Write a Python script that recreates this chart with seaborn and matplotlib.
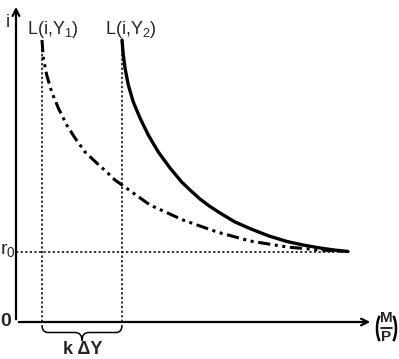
import numpy as np
import pandas as pd
import matplotlib
matplotlib.use("Agg")
import matplotlib.pyplot as plt
import seaborn as sns
from matplotlib.path import Path
from matplotlib.patches import PathPatch, Arc

# ========== Data (arbitrary units) ==========
# L(i, Y1): lower income, dash-dot-dot curve
m_y1 = [2.6, 2.73, 3.07, 3.57, 4.23, 5.07, 5.9, 6.9, 8.07, 9.07, 9.9, 10.6,
        13.4, 16.7, 20.1, 23.4, 27.1, 30.4, 33.2]
i_y1 = [28.2, 26.4, 24.7, 23.0, 21.4, 19.7, 18.4, 17.0, 15.9, 15.0, 14.2, 13.7,
        11.7, 10.2, 9.0, 8.1, 7.5, 7.2, 7.05]

# L(i, Y2): higher income, solid curve
m_y2 = [10.6, 10.73, 10.9, 11.23, 11.73, 12.4, 13.23, 14.23, 15.4, 16.57, 17.4,
        18.4, 19.4, 20.4, 21.9, 23.5, 25.3, 27.1, 28.7, 30.4, 31.8, 33.2]
i_y2 = [28.2, 26.7, 25.4, 23.7, 22.0, 20.4, 18.7, 17.0, 15.4, 14.0, 13.2,
        12.3, 11.55, 10.9, 10.0, 9.3, 8.6, 8.05, 7.7, 7.4, 7.2, 7.05]

r0 = 7.0
curve_labels = ["L(i,Y$_1$)", "L(i,Y$_2$)"]

df1 = pd.DataFrame({"m": m_y1, "i": i_y1})
df2 = pd.DataFrame({"m": m_y2, "i": i_y2})

# ========== Style ==========
sns.set_style("white")
plt.rcParams["font.family"] = ["Liberation Sans", "DejaVu Sans"]
plt.rcParams["mathtext.default"] = "regular"

fig = plt.figure(figsize=(3.99, 3.59), dpi=100)
ax = fig.add_axes([0, 0, 1, 1])
ax.set_xlim(-1.6, 38.3)
ax.set_ylim(-3.7, 32.2)
ax.axis("off")

# ========== Curves ==========
sns.lineplot(data=df1, x="m", y="i", ax=ax, color="black", lw=2.2,
             estimator=None, sort=False, linestyle=(0, (4, 1.5, 1, 1.5, 1, 1.5)))
sns.lineplot(data=df2, x="m", y="i", ax=ax, color="black", lw=2.4,
             estimator=None, sort=False)

# ========== Guides ==========
ax.plot([0, m_y1[-1]], [r0, r0], color="black", lw=1.1, linestyle=(0, (1.5, 1.5)))
ax.plot([m_y1[0], m_y1[0]], [0, i_y1[0]], color="black", lw=1.1, linestyle=(0, (1.5, 1.5)))
ax.plot([m_y2[0], m_y2[0]], [0, i_y2[0]], color="black", lw=1.1, linestyle=(0, (1.5, 1.5)))

# ========== Axes with arrows ==========
ax.annotate("", xy=(0, 31.8), xytext=(0, 0),
            arrowprops=dict(arrowstyle="->", lw=1.6, color="black", mutation_scale=12))
ax.annotate("", xy=(35.7, 0), xytext=(0, 0),
            arrowprops=dict(arrowstyle="->", lw=1.6, color="black", mutation_scale=12))

# ========== Brace for k dY ==========
xa, xb = m_y1[0], m_y2[0]
xm = (xa + xb) / 2
top, mid, tip = -0.3, -1.05, -1.85
verts = [(xa, top), (xa, mid), (xa + 0.6, mid),
         (xm - 0.7, mid), (xm, mid), (xm, tip),
         (xm, mid), (xm + 0.7, mid),
         (xb - 0.6, mid), (xb, mid), (xb, top)]
codes = [Path.MOVETO, Path.CURVE3, Path.CURVE3,
         Path.LINETO, Path.CURVE3, Path.CURVE3,
         Path.CURVE3, Path.CURVE3,
         Path.LINETO, Path.CURVE3, Path.CURVE3]
ax.add_patch(PathPatch(Path(verts, codes), fill=False, lw=1.1, color="black"))

# ========== Text ==========
ax.text(-0.8, 30.0, "i", fontsize=13, ha="center", va="center")
ax.text(-1.05, 0.0, "0", fontsize=14, ha="center", va="center", fontweight="bold")
ax.text(-0.8, 7.2, "r$_0$", fontsize=14, ha="center", va="center")
ax.text(m_y1[0] + 1.05, 29.3, curve_labels[0], fontsize=13, ha="center", va="center")
ax.text(m_y2[0] + 0.9, 29.3, curve_labels[1], fontsize=13, ha="center", va="center")
ax.text(xm + 0.1, -2.75, "k ΔY", fontsize=13, ha="center", va="center", fontweight="bold")

# (M/P) label: parentheses drawn as arcs so it fits the right edge
ax.add_patch(Arc((36.95, -0.65), 1.7, 3.5, theta1=115, theta2=245, lw=1.8, color="black"))
ax.add_patch(Arc((37.15, -0.65), 1.7, 3.5, theta1=-65, theta2=65, lw=1.8, color="black"))
ax.text(37.05, 0.35, "M", fontsize=11, ha="center", va="center", fontweight="bold")
ax.text(37.05, -1.5, "P", fontsize=11, ha="center", va="center", fontweight="bold")
ax.plot([36.5, 37.6], [-0.6, -0.6], color="black", lw=1.2)

fig.savefig("out.png", dpi=100)
